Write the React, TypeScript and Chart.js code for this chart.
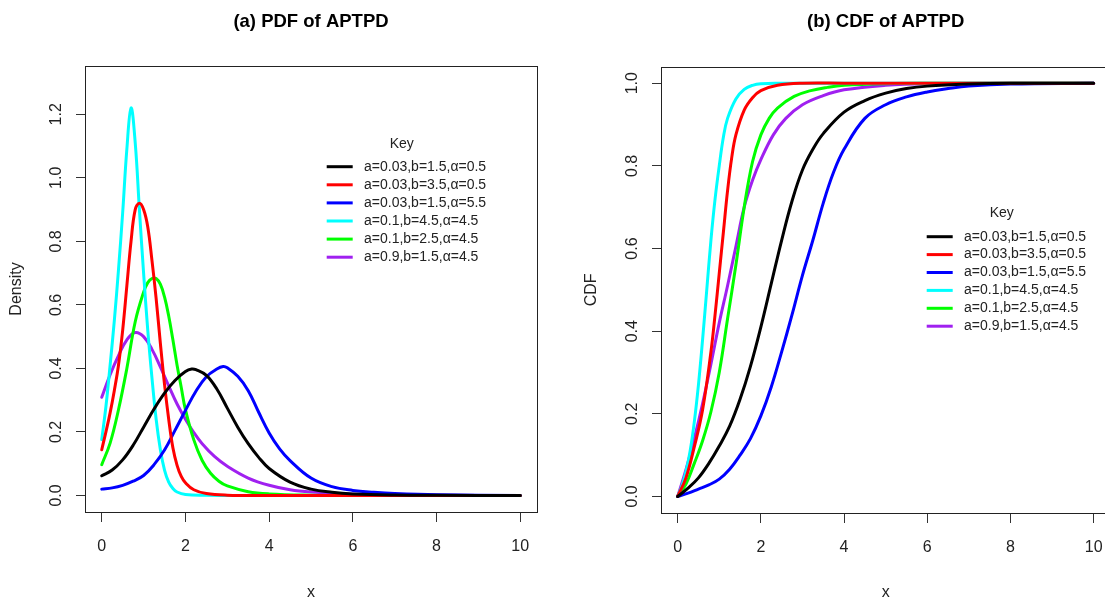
import React, { useEffect, useRef } from "react";
import { Chart, registerables } from "chart.js";
Chart.register(...registerables);

const FONT = "'Liberation Sans', Arial, Helvetica, sans-serif";

// ---------- labels / colours ----------
const seriesLabels = [
  "a=0.03,b=1.5,α=0.5",
  "a=0.03,b=3.5,α=0.5",
  "a=0.03,b=1.5,α=5.5",
  "a=0.1,b=4.5,α=4.5",
  "a=0.1,b=2.5,α=4.5",
  "a=0.9,b=1.5,α=4.5",
];
const seriesColors = ["#000000", "#FF0000", "#0000FF", "#00FFFF", "#00FF00", "#A020F0"];

// ---------- (a) PDF values ----------
const pdfBlackX = [0, 0.25, 0.5, 0.75, 1.0, 1.25, 1.5, 1.75, 2.0, 2.15, 2.25, 2.5, 2.75, 3.0, 3.25, 3.5, 3.75, 4.0, 4.5, 5.0, 5.5, 6, 7, 8, 10];
const pdfBlackY = [0.062, 0.08, 0.112, 0.158, 0.215, 0.272, 0.322, 0.362, 0.39, 0.398, 0.396, 0.378, 0.335, 0.275, 0.215, 0.163, 0.12, 0.085, 0.042, 0.02, 0.01, 0.005, 0.0015, 0.0005, 0];

const pdfRedX = [0, 0.1, 0.2, 0.3, 0.4, 0.5, 0.6, 0.7, 0.8, 0.9, 1.0, 1.1, 1.2, 1.3, 1.4, 1.5, 1.6, 1.7, 1.8, 1.9, 2.0, 2.2, 2.5, 3, 4, 6, 8, 10];
const pdfRedY = [0.144, 0.2, 0.26, 0.33, 0.41, 0.52, 0.66, 0.8, 0.9, 0.92, 0.9, 0.845, 0.74, 0.62, 0.48, 0.35, 0.24, 0.15, 0.095, 0.06, 0.04, 0.018, 0.006, 0.001, 0, 0, 0, 0];

const pdfBlueX = [0, 0.25, 0.5, 0.75, 1.0, 1.25, 1.5, 1.75, 2.0, 2.25, 2.5, 2.75, 2.9, 3.0, 3.25, 3.5, 3.75, 4.0, 4.25, 4.5, 5.0, 5.5, 6.0, 6.5, 7, 8, 10];
const pdfBlueY = [0.02, 0.024, 0.032, 0.045, 0.063, 0.097, 0.143, 0.205, 0.268, 0.328, 0.374, 0.398, 0.406, 0.402, 0.375, 0.33, 0.262, 0.197, 0.147, 0.11, 0.055, 0.028, 0.016, 0.01, 0.006, 0.002, 0];

const pdfCyanX = [0, 0.1, 0.2, 0.3, 0.4, 0.5, 0.6, 0.7, 0.8, 0.9, 1.0, 1.1, 1.2, 1.3, 1.4, 1.5, 1.6, 1.7, 1.8, 2.0, 2.5, 3, 4, 6, 8, 10];
const pdfCyanY = [0.176, 0.28, 0.41, 0.55, 0.71, 0.89, 1.09, 1.22, 1.11, 0.9, 0.7, 0.52, 0.37, 0.24, 0.145, 0.08, 0.042, 0.022, 0.011, 0.003, 0.0005, 0, 0, 0, 0, 0];

const pdfGreenX = [0, 0.2, 0.4, 0.6, 0.8, 1.0, 1.1, 1.2, 1.3, 1.4, 1.5, 1.6, 1.7, 1.8, 1.9, 2.0, 2.2, 2.4, 2.6, 2.8, 3.0, 3.5, 4, 5, 6, 8, 10];
const pdfGreenY = [0.097, 0.165, 0.27, 0.4, 0.547, 0.64, 0.67, 0.683, 0.683, 0.665, 0.625, 0.565, 0.49, 0.41, 0.34, 0.27, 0.175, 0.11, 0.07, 0.045, 0.03, 0.012, 0.005, 0.001, 0, 0, 0];

const pdfPurpleX = [0, 0.2, 0.4, 0.6, 0.8, 1.0, 1.2, 1.4, 1.6, 1.8, 2.0, 2.2, 2.4, 2.7, 3.0, 3.5, 4.0, 4.5, 5, 6, 7, 8, 10];
const pdfPurpleY = [0.309, 0.38, 0.44, 0.49, 0.513, 0.5, 0.46, 0.405, 0.345, 0.288, 0.24, 0.198, 0.163, 0.122, 0.092, 0.055, 0.032, 0.018, 0.011, 0.004, 0.0015, 0.0005, 0];

// ---------- (b) CDF values ----------
const cdfBlackX = [0, 0.25, 0.5, 0.75, 1.0, 1.25, 1.5, 1.75, 2.0, 2.25, 2.5, 2.75, 3.0, 3.25, 3.5, 4.0, 4.5, 5.0, 5.5, 6, 7, 8, 10];
const cdfBlackY = [0, 0.02, 0.045, 0.08, 0.122, 0.17, 0.235, 0.315, 0.41, 0.515, 0.62, 0.715, 0.79, 0.84, 0.878, 0.93, 0.958, 0.976, 0.987, 0.993, 0.998, 1, 1];

const cdfRedX = [0, 0.2, 0.4, 0.6, 0.8, 0.9, 1.0, 1.1, 1.2, 1.3, 1.4, 1.6, 1.8, 2.0, 2.4, 3, 4, 6, 8, 10];
const cdfRedY = [0, 0.045, 0.12, 0.21, 0.35, 0.44, 0.54, 0.64, 0.74, 0.82, 0.875, 0.935, 0.965, 0.982, 0.995, 1, 1, 1, 1, 1];

const cdfBlueX = [0, 0.25, 0.5, 0.75, 1.0, 1.25, 1.5, 1.75, 2.0, 2.25, 2.5, 2.75, 3.0, 3.25, 3.5, 3.75, 4.0, 4.5, 5.0, 5.5, 6.0, 6.5, 7, 8, 10];
const cdfBlueY = [0, 0.008, 0.018, 0.028, 0.042, 0.066, 0.1, 0.14, 0.195, 0.265, 0.35, 0.44, 0.535, 0.62, 0.71, 0.785, 0.84, 0.915, 0.948, 0.967, 0.979, 0.987, 0.993, 0.998, 1];

const cdfCyanX = [0, 0.1, 0.2, 0.3, 0.4, 0.5, 0.6, 0.7, 0.8, 0.9, 1.0, 1.1, 1.2, 1.4, 1.6, 1.8, 2.0, 2.5, 4, 6, 8, 10];
const cdfCyanY = [0, 0.025, 0.06, 0.11, 0.18, 0.27, 0.38, 0.5, 0.62, 0.72, 0.8, 0.87, 0.915, 0.962, 0.985, 0.995, 0.999, 1, 1, 1, 1, 1];

const cdfGreenX = [0, 0.2, 0.4, 0.6, 0.8, 1.0, 1.2, 1.4, 1.6, 1.8, 2.0, 2.2, 2.4, 2.8, 3.2, 3.6, 4.0, 5, 6, 8, 10];
const cdfGreenY = [0, 0.03, 0.08, 0.135, 0.205, 0.3, 0.43, 0.56, 0.7, 0.81, 0.875, 0.915, 0.94, 0.968, 0.982, 0.99, 0.995, 0.999, 1, 1, 1];

const cdfPurpleX = [0, 0.2, 0.4, 0.6, 0.8, 1.0, 1.2, 1.4, 1.6, 1.8, 2.0, 2.3, 2.6, 3.0, 3.5, 4.0, 5, 6, 8, 10];
const cdfPurpleY = [0, 0.065, 0.14, 0.225, 0.32, 0.42, 0.51, 0.605, 0.7, 0.765, 0.815, 0.875, 0.915, 0.948, 0.97, 0.984, 0.995, 0.999, 1, 1];

// ---------- axes ----------
const xTickStep = 2;
const pdfYStep = 0.2;
const cdfYStep = 0.2;

const pdfSeries: [number[], number[]][] = [
  [pdfBlackX, pdfBlackY], [pdfRedX, pdfRedY], [pdfBlueX, pdfBlueY],
  [pdfCyanX, pdfCyanY], [pdfGreenX, pdfGreenY], [pdfPurpleX, pdfPurpleY],
];
const cdfSeries: [number[], number[]][] = [
  [cdfBlackX, cdfBlackY], [cdfRedX, cdfRedY], [cdfBlueX, cdfBlueY],
  [cdfCyanX, cdfCyanY], [cdfGreenX, cdfGreenY], [cdfPurpleX, cdfPurpleY],
];

const rPlotPlugin = {
  id: "rplot",
  afterDraw(chart: any, _args: any, opts: any) {
    const { ctx, chartArea: a } = chart;
    ctx.save();
    ctx.strokeStyle = "#222";
    ctx.lineWidth = 1;
    ctx.strokeRect(Math.round(a.left) + 0.5, Math.round(a.top) + 0.5, Math.round(a.right - a.left), Math.round(a.bottom - a.top));
    const L = opts.legend;
    if (L) {
      ctx.font = `14px ${FONT}`;
      ctx.fillStyle = "#222";
      ctx.textBaseline = "middle";
      ctx.textAlign = "center";
      ctx.fillText("Key", L.keyX, L.keyY);
      ctx.textAlign = "left";
      chart.data.datasets.forEach((ds: any, i: number) => {
        const y = L.rowY + i * L.rowGap;
        ctx.strokeStyle = ds.borderColor;
        ctx.lineWidth = 3;
        ctx.lineCap = "butt";
        ctx.beginPath();
        ctx.moveTo(L.lineX0, y);
        ctx.lineTo(L.lineX1, y);
        ctx.stroke();
        ctx.fillStyle = "#222";
        ctx.fillText(ds.label, L.textX, y);
      });
    }
    ctx.restore();
  },
};

function buildConfig(kind: "pdf" | "cdf") {
  const isPdf = kind === "pdf";
  const series = isPdf ? pdfSeries : cdfSeries;
  const datasets = series.map(([xs, ys], i) => ({
    label: seriesLabels[i],
    data: xs.map((x, j) => ({ x, y: ys[j] })),
    borderColor: seriesColors[i],
    backgroundColor: seriesColors[i],
    borderWidth: 3,
    pointRadius: 0,
    fill: false,
    tension: 0.4,
    borderCapStyle: "round",
    borderJoinStyle: "round",
  }));
  const tickFont = { family: FONT, size: 16 };
  const yAxisWidth = isPdf ? 85 : 101;
  const xAxisHeight = isPdf ? 90 : 89;
  return {
    type: "line",
    data: { datasets },
    plugins: [rPlotPlugin],
    options: {
      responsive: false,
      animation: false,
      devicePixelRatio: 1,
      layout: { padding: { left: 0, right: isPdf ? 23 : 9.7, top: 0, bottom: 0 } },
      plugins: {
        legend: { display: false },
        tooltip: { enabled: false },
        title: {
          display: true,
          text: isPdf ? "(a) PDF of APTPD" : "(b) CDF of APTPD",
          fullSize: false,
          color: "#000",
          font: { family: FONT, size: 18.5, weight: "bold", lineHeight: 1.2 },
          padding: { top: 11, bottom: isPdf ? 32.8 : 33.5 },
        },
        rplot: {
          legend: isPdf
            ? { keyX: 401.7, keyY: 144, rowY: 166.7, rowGap: 18.1, lineX0: 326.7, lineX1: 352.7, textX: 364 }
            : { keyX: 441.7, keyY: 213.3, rowY: 236.7, rowGap: 17.9, lineX0: 366.7, lineX1: 392.7, textX: 404 },
        },
      },
      scales: {
        x: {
          type: "linear",
          min: -0.4,
          max: 10.4,
          afterFit: (s: any) => { s.height = xAxisHeight; },
          ticks: { stepSize: xTickStep, includeBounds: false, maxRotation: 0, font: tickFont, color: "#222", padding: 15 },
          grid: { display: true, drawOnChartArea: false, drawTicks: true, tickLength: 10, color: "#333" },
          border: { display: false },
          title: { display: true, text: "x", color: "#222", font: { family: FONT, size: 16 }, padding: { top: 0, bottom: 0 } },
        },
        y: {
          type: "linear",
          min: isPdf ? -0.052 : -0.04,
          max: isPdf ? 1.352 : 1.04,
          afterFit: (s: any) => { s.width = yAxisWidth; },
          ticks: {
            stepSize: isPdf ? pdfYStep : cdfYStep,
            includeBounds: false,
            callback: (v: number) => Number(v).toFixed(1),
            minRotation: 90,
            maxRotation: 90,
            crossAlign: "center",
            font: tickFont,
            color: "#222",
            padding: 8,
          },
          grid: { display: true, drawOnChartArea: false, drawTicks: true, tickLength: 9, color: "#333" },
          border: { display: false },
          title: {
            display: true,
            text: isPdf ? "Density" : "CDF",
            color: "#222",
            font: { family: FONT, size: 16 },
            padding: { top: isPdf ? 7.4 : 22, bottom: 0 },
          },
        },
      },
    },
  };
}

function RChart({ kind, left }: { kind: "pdf" | "cdf"; left: number }) {
  const ref = useRef<HTMLCanvasElement | null>(null);
  useEffect(() => {
    if (!ref.current) return;
    const chart = new Chart(ref.current, buildConfig(kind) as any);
    return () => chart.destroy();
  }, [kind]);
  return (
    <canvas
      ref={ref}
      width={560}
      height={602}
      style={{ position: "absolute", left, top: 0, width: 560, height: 602 }}
    />
  );
}

export default function App() {
  return (
    <div
      style={{
        position: "fixed",
        left: 0,
        top: 0,
        width: 1105,
        height: 602,
        overflow: "hidden",
        background: "#fff",
      }}
    >
      <RChart kind="pdf" left={0} />
      <RChart kind="cdf" left={560} />
    </div>
  );
}
